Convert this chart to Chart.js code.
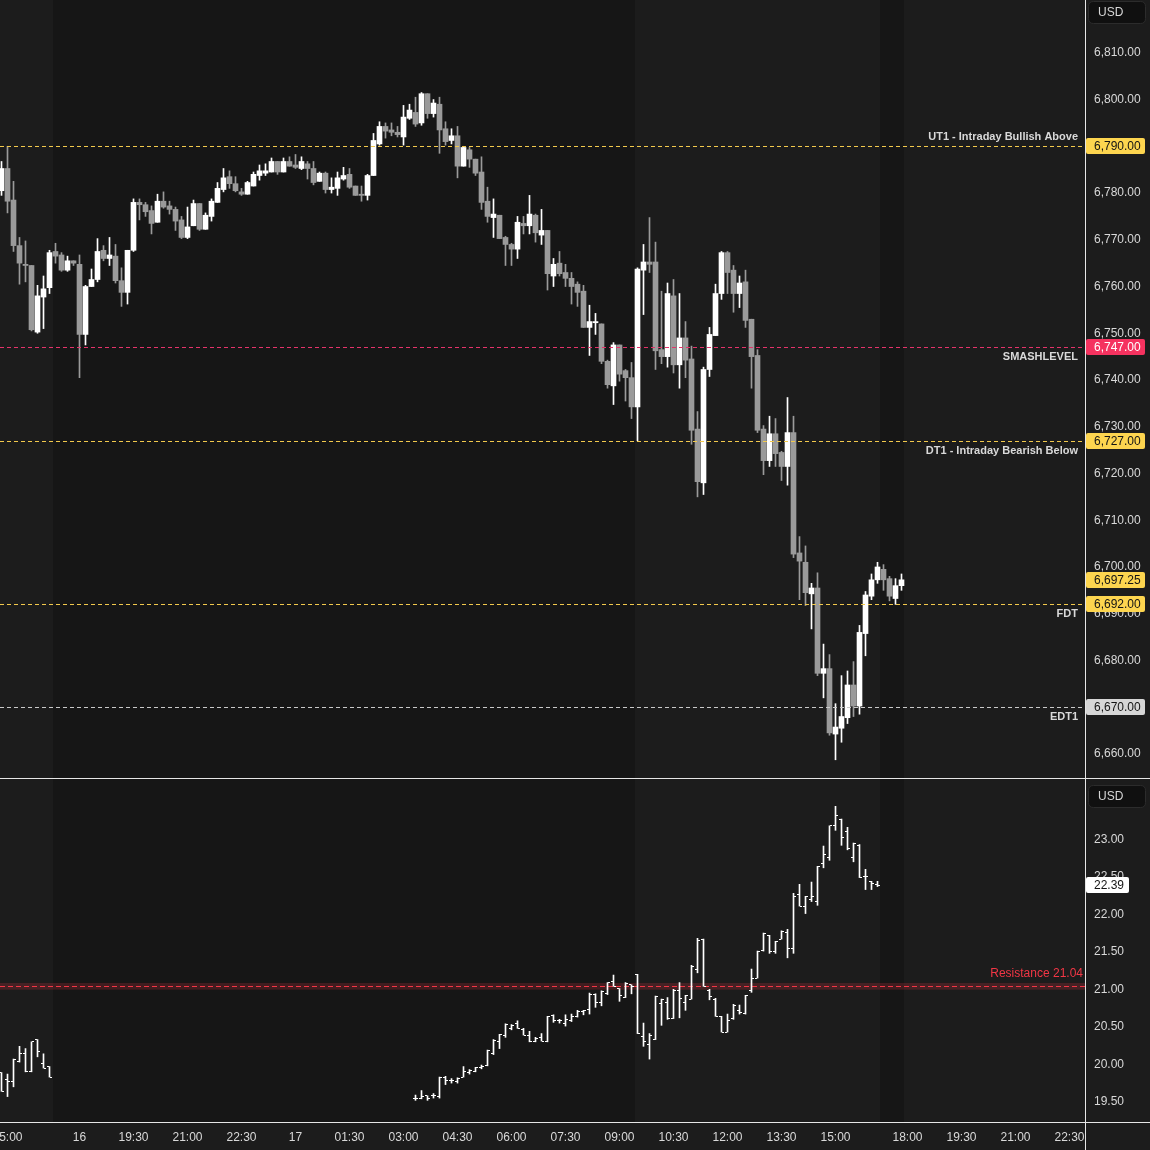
<!DOCTYPE html>
<html><head><meta charset="utf-8">
<script src="https://cdn.jsdelivr.net/npm/chart.js@4.4.0/dist/chart.umd.min.js"></script>
<style>
html,body{margin:0;padding:0;background:#1c1c1c;overflow:hidden;}
#wrap{position:relative;width:1150px;height:1150px;}
#top{position:absolute;left:0;top:0;}
#bot{position:absolute;left:0;top:779px;}
</style></head><body>
<div id="wrap"><canvas id="top" width="1150" height="779"></canvas><canvas id="bot" width="1150" height="371"></canvas></div>
<script>
// ---------- DATA ----------
// 10-minute slots (trading time); slot 0 = 15:00 on the 15th
const ES_FIRST_SLOT = -1;
const esOpen = [6780.5,6785.25,6778.5,6768.75,6764.75,6764.5,6750.25,6757.75,6759.75,6767.5,6766.75,6763.5,6765.5,6764.75,6749.75,6760,6761.5,6767.75,6766,6766.5,6761.25,6758.75,6767.75,6778,6777.5,6776.25,6773.75,6778.25,6777.25,6776.5,6774.25,6770.5,6773,6777.75,6772.25,6775,6778,6780.75,6783.5,6782,6780.25,6779.75,6781.5,6783.75,6784.25,6784.5,6786.75,6784.5,6786.75,6786,6785.25,6786.25,6785.25,6782.5,6784.25,6780.75,6781,6783,6784,6781.5,6779.75,6779.5,6783.75,6790.5,6794.25,6793.5,6793,6792,6796,6797.25,6795,6801.25,6797,6799,6793.75,6791.25,6792.25,6785.75,6789.25,6787.25,6784.5,6778.25,6774.75,6775.25,6770.5,6769,6768,6773.5,6773,6775.25,6771,6772,6762.25,6765,6763,6761.75,6760.5,6759,6751.25,6752.25,6752,6744,6738.75,6747.5,6742,6740.5,6734.25,6763.5,6765.25,6765.25,6746.5,6745,6758,6743.25,6749,6744.5,6729.5,6718,6742.25,6749.5,6758.5,6767.25,6763.5,6758.5,6761,6753,6745.25,6729.5,6722.75,6728.5,6724.5,6721.5,6728.75,6703,6701,6694.25,6695.5,6677.25,6678.25,6664.25,6665.5,6667.75,6674.75,6670.25,6685.75,6693.75,6697.25,6699.5,6697.5,6693.25,6696];
const esHigh = [6786.75,6790,6782.5,6770.5,6769.75,6764.5,6760.25,6762.25,6767.75,6769.25,6767.25,6766.5,6765.5,6766.75,6760.25,6763.75,6770.25,6768.75,6770.5,6769,6764,6767.75,6778.75,6778.75,6778,6777.25,6779.75,6780.25,6778.25,6777,6775,6777,6778.5,6777.75,6775.75,6778.75,6782.25,6785.25,6784.75,6783.5,6781,6782.5,6784.5,6786,6786.25,6787.5,6786.75,6787.5,6787.75,6788.25,6787.75,6786.75,6786.75,6784.5,6784.5,6783.25,6784.5,6785.5,6785.25,6781.5,6781.5,6784,6792.75,6795.25,6795,6795,6794.25,6798.75,6799,6800.5,6801.5,6801.25,6800,6800.5,6795.25,6793.75,6794.25,6790,6789.75,6787.25,6787.75,6781.25,6778.75,6775.25,6770.75,6769.25,6775,6775,6779.5,6775.5,6776.5,6772,6766,6767.5,6764.75,6763,6761,6760.25,6756,6754.25,6752,6744.25,6748,6747.5,6742.25,6743.75,6764,6769,6774.75,6769.5,6759,6760.75,6761.5,6758.5,6752.5,6747.25,6733.25,6742.75,6751.25,6760.5,6767.5,6767.5,6764.5,6762.25,6763.5,6753,6746.5,6730.25,6732.25,6731.75,6724.75,6736.25,6732.25,6706.5,6704.5,6696.5,6698.75,6683.5,6681.25,6670.75,6676.75,6677.75,6679.75,6687.5,6694.75,6698.5,6701,6700.5,6698,6697.5,6698.5];
const esLow = [6779.5,6775.75,6767.5,6760.5,6761,6750.5,6750,6751,6758.5,6765,6763.25,6763.25,6764.5,6740.5,6747.5,6760,6761,6765.5,6764.5,6760.75,6755.75,6756.25,6767.5,6774.25,6775,6771.25,6773.75,6776.75,6775.5,6772,6770.25,6770.25,6773,6772,6772.25,6774,6778,6780.25,6781,6780.25,6779.5,6779.75,6781.5,6782.75,6783.75,6784.5,6784,6784.5,6785.75,6785.25,6785,6783,6781.75,6782.5,6780,6780,6779.5,6782.75,6781,6779.5,6778.25,6778.5,6783.75,6790.25,6791.75,6792.25,6792,6790.25,6795.75,6794.25,6794.5,6796,6796.25,6788.5,6790.25,6790.5,6783.25,6785.75,6785.5,6783.75,6776.5,6773.75,6770.5,6770.25,6764.5,6764.5,6766,6771.25,6771.25,6769.5,6769,6759.25,6760,6762.25,6760,6756.25,6755.75,6751.25,6745.25,6749.75,6743.5,6738.25,6734.75,6739.75,6735.5,6731.75,6727,6754,6763,6742.25,6743.5,6742.75,6741.5,6738.25,6740.5,6726.25,6715,6715.5,6740.75,6749.5,6757.25,6758.5,6754.5,6755.5,6751.25,6738.25,6728.75,6719.75,6721.5,6721.5,6718.5,6717.5,6702,6693,6691.75,6686.75,6676.75,6672,6664,6658.75,6662.5,6666.5,6668,6668.5,6681,6693,6696.5,6695,6692.75,6692,6695];
const esClose = [6785.25,6778.25,6768.75,6765,6764.5,6750.75,6758,6759.5,6767.25,6766.5,6763.5,6765.5,6765,6749.75,6760,6761.5,6767.5,6766,6766.75,6761.25,6758.75,6767.75,6778,6777.5,6776,6773.5,6778.25,6777,6776.5,6774,6770.5,6772.75,6777.75,6772.25,6775.25,6778.25,6781,6783.25,6782,6780.5,6779.75,6782.25,6784,6784.75,6784.75,6786.75,6784.5,6786.75,6785.75,6785.5,6786.75,6785.25,6782.25,6784.25,6780.75,6781.25,6783.25,6783.75,6781.25,6779.5,6779.5,6783.75,6791.25,6794.25,6793.25,6793,6792.5,6796.25,6797.75,6794.75,6801.25,6797,6799.25,6793.5,6791,6792.25,6785.75,6789.75,6787.25,6784.25,6778,6775,6775.5,6770.25,6769,6768,6773.75,6773,6775.5,6771.5,6772,6762.75,6764.75,6762.75,6761.75,6760,6758.75,6751.25,6752.5,6752.5,6744,6739,6747.5,6741.25,6740.5,6734.25,6763.75,6765.25,6764.75,6746.25,6745,6758.5,6743.25,6749,6744.25,6729.25,6718.25,6742.25,6749.75,6758.5,6767.25,6763,6758.5,6760.75,6752.75,6745,6729.25,6722.75,6728.5,6724.25,6721.5,6728.75,6702.75,6701.25,6694.5,6695.5,6677.25,6678.25,6664.5,6665.75,6668,6674.75,6670.25,6686,6694,6697.25,6700,6697.25,6693.75,6696,6697.25];

const VIX_FIRST_SLOT = -1;
const N = null;
const vixOpen = [19.89,19.80,19.77,20.04,20.14,19.91,20.33,20.01,19.97, N,N,N,N,N,N,N,N,N,N,N,N,N,N,N,N,N,N,N,N,N,N,N,N,N,N,N,N,N,N,N,N,N,N,N,N,N,N,N,N,N,N,N,N,N,N,N,N,N,N,N,N,N,N,N,N,N,N,N,N, 19.55,19.55,19.58,19.58,19.57,19.82,19.78,19.77,19.83,19.89,19.91,19.96,19.99,20.15,20.31,20.38,20.48,20.54,20.46,20.39,20.31,20.36,20.31,20.65,20.58,20.54,20.58,20.64,20.70,20.73,20.93,20.82,20.95,21.10,21.01,20.89,21.06,21.20,20.37,20.27,20.33,20.81,20.83,20.61,20.98,20.82,20.87,21.27,21.66,20.99,20.87,20.64,20.43,20.61,20.72,20.68,20.98,21.15,21.52,21.72,21.51,21.67,21.76,21.55,22.26,22.11,22.20,22.17,22.68,22.76,23.19,23.27,23.11,22.76,22.92,22.50,22.44,22.40];
const vixHigh = [19.89,19.87,20.07,20.24,20.21,20.30,20.33,20.14,19.97, N,N,N,N,N,N,N,N,N,N,N,N,N,N,N,N,N,N,N,N,N,N,N,N,N,N,N,N,N,N,N,N,N,N,N,N,N,N,N,N,N,N,N,N,N,N,N,N,N,N,N,N,N,N,N,N,N,N,N,N, 19.59,19.65,19.58,19.61,19.83,19.84,19.81,19.82,19.97,19.93,19.96,19.99,20.19,20.33,20.40,20.54,20.53,20.58,20.48,20.44,20.36,20.41,20.64,20.66,20.60,20.66,20.67,20.72,20.72,20.95,20.94,20.98,21.09,21.19,21.01,21.09,21.06,21.20,20.55,20.41,20.91,20.87,20.89,21.00,21.09,20.92,21.32,21.68,21.67,21.00,20.88,20.64,20.67,20.80,20.79,20.92,21.27,21.51,21.75,21.72,21.64,21.78,21.80,22.28,22.40,22.24,22.43,22.64,22.91,23.18,23.44,23.27,23.16,22.95,22.93,22.60,22.44,22.44];
const vixLow = [19.64,19.57,19.70,20.03,19.90,19.90,20.10,19.95,19.83, N,N,N,N,N,N,N,N,N,N,N,N,N,N,N,N,N,N,N,N,N,N,N,N,N,N,N,N,N,N,N,N,N,N,N,N,N,N,N,N,N,N,N,N,N,N,N,N,N,N,N,N,N,N,N,N,N,N,N,N, 19.52,19.54,19.52,19.55,19.55,19.73,19.75,19.75,19.83,19.87,19.90,19.94,19.98,20.13,20.21,20.36,20.46,20.48,20.39,20.30,20.30,20.31,20.30,20.56,20.55,20.51,20.57,20.63,20.66,20.67,20.76,20.78,20.93,21.04,20.84,20.89,20.94,20.41,20.24,20.07,20.33,20.52,20.60,20.61,20.62,20.72,20.87,21.22,21.04,20.86,20.64,20.43,20.43,20.60,20.67,20.67,20.96,21.15,21.51,21.48,21.48,21.67,21.42,21.48,22.11,22.01,22.17,22.12,22.62,22.72,23.12,22.92,22.86,22.70,22.49,22.33,22.33,22.37];
const vixClose = [19.64,19.77,20.06,20.14,19.91,20.30,20.17,19.95,19.83, N,N,N,N,N,N,N,N,N,N,N,N,N,N,N,N,N,N,N,N,N,N,N,N,N,N,N,N,N,N,N,N,N,N,N,N,N,N,N,N,N,N,N,N,N,N,N,N,N,N,N,N,N,N,N,N,N,N,N,N, 19.55,19.57,19.55,19.59,19.82,19.78,19.78,19.81,19.90,19.92,19.96,19.97,20.18,20.32,20.40,20.53,20.52,20.48,20.39,20.30,20.35,20.31,20.64,20.59,20.58,20.60,20.64,20.71,20.72,20.93,20.82,20.97,21.09,21.04,20.92,21.08,21.04,20.41,20.31,20.38,20.91,20.87,20.61,20.99,20.88,20.92,21.31,21.65,21.04,20.91,20.64,20.43,20.59,20.78,20.69,20.92,21.15,21.51,21.75,21.51,21.64,21.77,21.55,22.24,22.11,22.24,22.24,22.64,22.80,23.18,23.32,23.03,22.88,22.95,22.49,22.51,22.41,22.39];

// horizontal levels (top pane)
const levelValues = [6790, 6747, 6727, 6692, 6670];
const levelNames  = ['UT1 - Intraday Bullish Above', 'SMASHLEVEL', 'DT1 - Intraday Bearish Below', 'FDT', 'EDT1'];
const levelSide   = ['above', 'below', 'below', 'below', 'below'];
const levelKind   = ['yellow', 'pink', 'yellow', 'yellow', 'grey'];
// bottom pane level
const resistanceValue = 21.04;
const resistanceName = 'Resistance 21.04';

// axis ticks
const priceTicks = [6660,6670,6680,6690,6700,6710,6720,6730,6740,6750,6760,6770,6780,6790,6800,6810];
const vixTicks = [19.5,20,20.5,21,21.5,22,22.5,23];
const xTickSlots  = [0,12,21,30,39,48,57,66,75,84,93,102,111,120,129,138,150,159,168,177];
const xTickLabels = ['15:00','16','19:30','21:00','22:30','17','01:30','03:00','04:30','06:00','07:30','09:00','10:30','12:00','13:30','15:00','18:00','19:30','21:00','22:30'];
// extended-hours (darker) session spans, in slots
const extSessionStart = [7.5, 145.5];
const extSessionEnd   = [104.5, 149.5];

// ---------- STYLE ----------
const FONT = "'Liberation Sans', Arial, sans-serif";
const UP = '#ffffff', DOWN = '#9a9a9a';
const KIND = {
  yellow: {line:'#f2c94c', tag:'#fdd54f', text:'#141414'},
  pink:   {line:'#e5336a', tag:'#f5325f', text:'#ffffff'},
  grey:   {line:'#c9c9c9', tag:'#d6d6d6', text:'#141414'}
};
const XMIN = -1.25, XMAX = -1.25 + 1085/6;
const AXIS_W = 65;

function fmtPrice(v){ return v.toLocaleString('en-US',{minimumFractionDigits:2, maximumFractionDigits:2}); }
function zeroPad(s){ s.paddingLeft=0; s.paddingRight=0; s.paddingTop=0; s.paddingBottom=0; }

function roundRect(ctx,x,y,w,h,r){ ctx.beginPath(); ctx.moveTo(x+r,y); ctx.lineTo(x+w-r,y); ctx.quadraticCurveTo(x+w,y,x+w,y+r); ctx.lineTo(x+w,y+h-r); ctx.quadraticCurveTo(x+w,y+h,x+w-r,y+h); ctx.lineTo(x+r,y+h); ctx.quadraticCurveTo(x,y+h,x,y+h-r); ctx.lineTo(x,y+r); ctx.quadraticCurveTo(x,y,x+r,y); ctx.closePath(); }

const sessionShade = {
  id:'sessionShade',
  beforeDraw(chart){
    const {ctx, chartArea:a, scales:{x}} = chart;
    ctx.save();
    ctx.fillStyle = '#161616';
    extSessionStart.forEach((s,i)=>{
      const x0 = Math.round(x.getPixelForValue(s)), x1 = Math.round(x.getPixelForValue(extSessionEnd[i]));
      ctx.fillRect(x0, a.top, x1-x0, a.bottom-a.top);
    });
    ctx.restore();
  }
};

function drawUSD(ctx, y){
  ctx.save();
  roundRect(ctx, 1088.5, y+0.5, 57, 22, 5);
  ctx.fillStyle = '#101010'; ctx.fill();
  ctx.strokeStyle = '#2c2c2c'; ctx.lineWidth = 1; ctx.stroke();
  ctx.fillStyle = '#d6d6d6'; ctx.font = '12px '+FONT; ctx.textBaseline='middle'; ctx.textAlign='left';
  ctx.fillText('USD', 1098, y+12);
  ctx.restore();
}
function drawTag(ctx, py, text, bg, fg, w){
  ctx.save();
  const yc = Math.round(py);
  roundRect(ctx, 1086, yc-8, w, 16, 2);
  ctx.fillStyle = bg; ctx.fill();
  ctx.fillStyle = fg; ctx.font = '12px '+FONT; ctx.textBaseline='middle'; ctx.textAlign='left';
  ctx.fillText(text, 1094, yc+0.5);
  ctx.restore();
}
function drawFrame(chart, hLineY){
  const ctx = chart.ctx;
  ctx.save();
  ctx.fillStyle = '#e6e6e6';
  ctx.fillRect(1085, 0, 1, chart.height);
  if (hLineY != null) ctx.fillRect(0, hLineY, chart.width, 1);
  ctx.restore();
}

const topOverlay = {
  id:'topOverlay',
  afterDatasetsDraw(chart){
    const {ctx, chartArea:a, scales:{y}} = chart;
    ctx.save();
    levelValues.forEach((v,i)=>{
      const k = KIND[levelKind[i]];
      const py = Math.round(y.getPixelForValue(v)) + 0.5;
      ctx.strokeStyle = k.line; ctx.lineWidth = 1; ctx.setLineDash([4,3]);
      ctx.beginPath(); ctx.moveTo(a.left, py); ctx.lineTo(a.right, py); ctx.stroke();
      ctx.setLineDash([]);
      ctx.fillStyle = '#d9d9d9'; ctx.font = 'bold 11px '+FONT; ctx.textAlign='right'; ctx.textBaseline='middle';
      ctx.fillText(levelNames[i], a.right-7, levelSide[i]==='above' ? py-10 : py+9.5);
    });
    ctx.restore();
  },
  afterDraw(chart){
    const {ctx, scales:{y}} = chart;
    levelValues.forEach((v,i)=>{
      const k = KIND[levelKind[i]];
      drawTag(ctx, y.getPixelForValue(v), fmtPrice(v), k.tag, k.text, 59);
    });
    const last = esClose[esClose.length-1];
    drawTag(ctx, y.getPixelForValue(last), fmtPrice(last), KIND.yellow.tag, KIND.yellow.text, 59);
    drawUSD(ctx, 1);
    drawFrame(chart, chart.chartArea.bottom);
  }
};

const botOverlay = {
  id:'botOverlay',
  beforeDatasetsDraw(chart){
    const {ctx, chartArea:a, scales:{y}} = chart;
    ctx.save();
    const yTop = y.getPixelForValue(resistanceValue+0.045), yBot = y.getPixelForValue(resistanceValue-0.045);
    ctx.fillStyle = 'rgba(242,54,69,0.2)';
    ctx.fillRect(a.left, yTop, a.right-a.left, yBot-yTop);
    const py = Math.round(y.getPixelForValue(resistanceValue)) + 0.5;
    ctx.strokeStyle = '#f23645'; ctx.lineWidth = 1; ctx.setLineDash([5,3]);
    ctx.beginPath(); ctx.moveTo(a.left, py); ctx.lineTo(a.right, py); ctx.stroke();
    ctx.setLineDash([]);
    ctx.fillStyle = '#f23645'; ctx.font = '12px '+FONT; ctx.textAlign='right'; ctx.textBaseline='middle';
    ctx.fillText(resistanceName, a.right-2, py-13);
    ctx.restore();
  },
  afterDatasetsDraw(chart){
    const {ctx, scales:{x, y}} = chart;
    ctx.save();
    ctx.fillStyle = '#ffffff';
    vixOpen.forEach((o,i)=>{
      if (o == null) return;
      const cx = x.getPixelForValue(VIX_FIRST_SLOT + i);
      ctx.fillRect(cx-2.5, Math.round(y.getPixelForValue(o)-0.5), 2, 1);
      ctx.fillRect(cx+0.5, Math.round(y.getPixelForValue(vixClose[i])-0.5), 2, 1);
    });
    ctx.restore();
  },
  afterDraw(chart){
    const {ctx, scales:{y}} = chart;
    let last = null; for (let i=vixClose.length-1;i>=0;i--){ if (vixClose[i]!=null){ last = vixClose[i]; break; } }
    drawTag(ctx, y.getPixelForValue(last), last.toFixed(2), '#ffffff', '#141414', 43);
    drawUSD(ctx, 6);
    drawFrame(chart, chart.chartArea.bottom);
  }
};

// ---------- TOP CHART ----------
const esSlots = esOpen.map((_,i)=>ES_FIRST_SLOT+i);
const esColors = esOpen.map((o,i)=> esClose[i] >= o ? UP : DOWN);

new Chart(document.getElementById('top'), {
  type:'bar',
  data:{ datasets:[
    { data: esSlots.map((s,i)=>({x:s, y:[esLow[i], esHigh[i]]})), backgroundColor: esColors, barThickness:1, grouped:false, order:2, borderWidth:0 },
    { data: esSlots.map((s,i)=>({x:s, y:[esOpen[i], esClose[i]]})), backgroundColor: esColors, barThickness:5, grouped:false, order:1, borderWidth:0, minBarLength:1 }
  ]},
  options:{
    responsive:false, animation:false, devicePixelRatio:1,
    layout:{padding:{left:0,right:0,top:0,bottom:1}},
    plugins:{legend:{display:false}, tooltip:{enabled:false}},
    events:[],
    scales:{
      x:{ type:'linear', min:XMIN, max:XMAX, offset:false, display:false, afterFit: zeroPad },
      y:{ position:'right', min:6654.85, max:6821.3,
          afterBuildTicks: s=>{ s.ticks = priceTicks.map(v=>({value:v})); },
          afterFit: s=>{ s.width = AXIS_W; zeroPad(s); },
          grid:{display:false, drawTicks:false}, border:{display:false},
          ticks:{ color:'#d9d9d9', font:{family:FONT, size:12}, padding:9, callback: v=>fmtPrice(v) } }
    }
  },
  plugins:[sessionShade, topOverlay]
});

// ---------- BOTTOM CHART ----------
const vixBars = [];
vixOpen.forEach((o,i)=>{ if (o!=null) vixBars.push({x: VIX_FIRST_SLOT+i, y:[vixLow[i], vixHigh[i]]}); });

new Chart(document.getElementById('bot'), {
  type:'bar',
  data:{ datasets:[
    { data: vixBars, backgroundColor:'#ffffff', barThickness:1, grouped:false, borderWidth:0, minBarLength:1 }
  ]},
  options:{
    responsive:false, animation:false, devicePixelRatio:1,
    layout:{padding:0},
    plugins:{legend:{display:false}, tooltip:{enabled:false}},
    events:[],
    scales:{
      x:{ type:'linear', min:XMIN, max:XMAX, offset:false,
          afterBuildTicks: s=>{ s.ticks = xTickSlots.map(v=>({value:v})); },
          afterFit: s=>{ s.height = 28; zeroPad(s); },
          grid:{display:false, drawTicks:false}, border:{display:false},
          ticks:{ autoSkip:false, maxRotation:0, minRotation:0, padding:8, color:'#d9d9d9', font:{family:FONT, size:12},
                  callback:(v,i)=>xTickLabels[i] } },
      y:{ position:'right', min:19.231, max:23.804,
          afterBuildTicks: s=>{ s.ticks = vixTicks.map(v=>({value:v})); },
          afterFit: s=>{ s.width = AXIS_W; zeroPad(s); },
          grid:{display:false, drawTicks:false}, border:{display:false},
          ticks:{ color:'#d9d9d9', font:{family:FONT, size:12}, padding:9, callback: v=>v.toFixed(2) } }
    }
  },
  plugins:[sessionShade, botOverlay]
});
</script>
</body></html>
